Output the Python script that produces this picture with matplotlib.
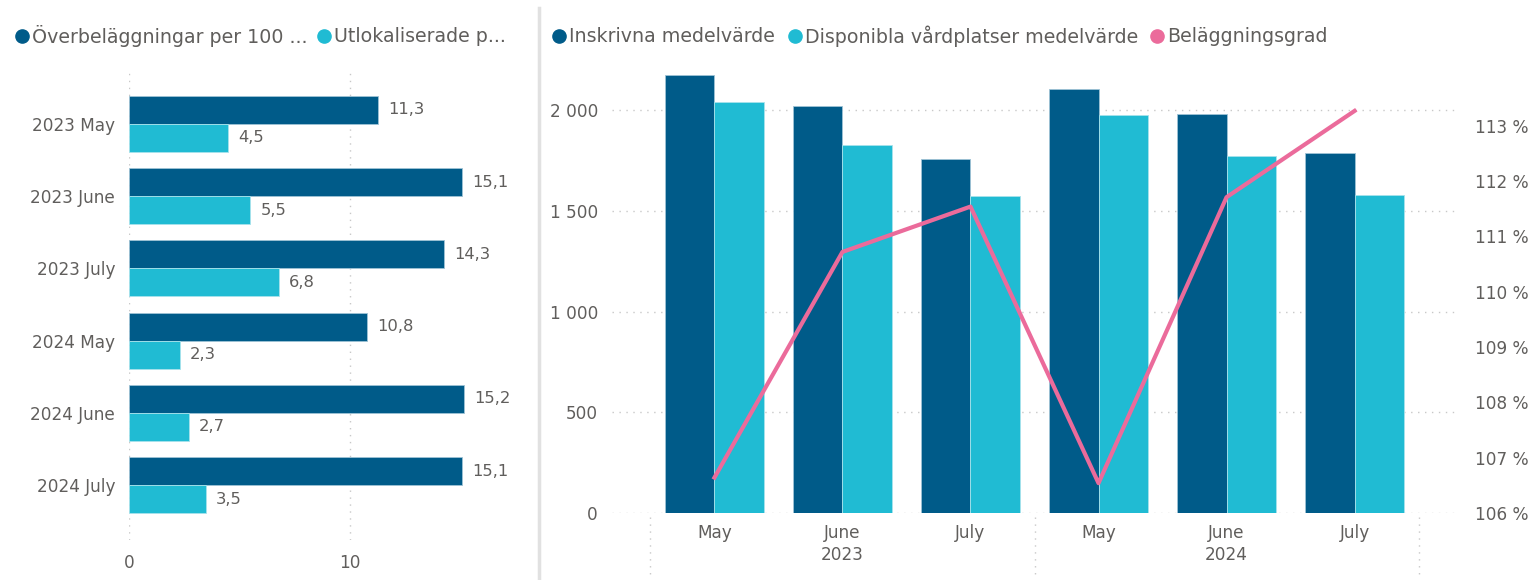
import matplotlib.pyplot as plt
from matplotlib.lines import Line2D
from matplotlib.ticker import FuncFormatter

# data
periods = ["2023 May", "2023 June", "2023 July", "2024 May", "2024 June", "2024 July"]
overbelaggningar = [11.3, 15.1, 14.3, 10.8, 15.2, 15.1]
utlokaliserade = [4.5, 5.5, 6.8, 2.3, 2.7, 3.5]

months = ["May", "June", "July", "May", "June", "July"]
years = ["2023", "2024"]
inskrivna = [2177, 2023, 1759, 2106, 1982, 1790]
disponibla = [2040, 1827, 1576, 1977, 1772, 1581]
belaggningsgrad = [106.64, 110.72, 111.54, 106.54, 111.71, 113.27]

DARK = "#005B89"
LIGHT = "#20BBD3"
PINK = "#EB6B9B"
TXT = "#605E5C"
GRID = "#C8C8C8"

plt.rcParams['font.family'] = ['DejaVu Sans']

W, H = 1534, 580
fig = plt.figure(figsize=(W / 100, H / 100), dpi=100)


def box(l, t, r, b):
    return [l / W, 1 - b / H, (r - l) / W, (b - t) / H]


def legend_item(x, y, color, label):
    fig.add_artist(Line2D([x / W], [1 - y / H], marker='o', markersize=9.5,
                          color=color, transform=fig.transFigure))
    fig.text((x + 10) / W, 1 - y / H, label, color=TXT, fontsize=13.7,
             va='center', ha='left')


# left chart: horizontal bars
ax1 = fig.add_axes(box(129, 69, 504, 540))
pos = list(range(len(periods)))
h = 0.387
ax1.barh([p - h / 2 for p in pos], overbelaggningar, height=h, color=DARK,
         edgecolor='#9FC3D6', linewidth=0.6)
ax1.barh([p + h / 2 for p in pos], utlokaliserade, height=h, color=LIGHT,
         edgecolor='#A8E3EC', linewidth=0.6)
for p, v in zip(pos, overbelaggningar):
    ax1.text(v + 0.45, p - h / 2, f"{v:.1f}".replace('.', ','), va='center',
             ha='left', color=TXT, fontsize=11.8)
for p, v in zip(pos, utlokaliserade):
    ax1.text(v + 0.45, p + h / 2, f"{v:.1f}".replace('.', ','), va='center',
             ha='left', color=TXT, fontsize=11.8)
ax1.set_xlim(0, 17)
ax1.set_ylim(5.76, -0.76)
ax1.set_yticks(pos)
ax1.set_yticklabels(periods)
ax1.set_xticks([0, 10])
ax1.tick_params(length=0, colors=TXT, labelsize=12.2)
ax1.tick_params(axis='y', pad=10)
ax1.tick_params(axis='x', pad=10)
ax1.grid(axis='x', color=GRID, linestyle=(0, (1, 4)), linewidth=1)
ax1.set_axisbelow(True)
for s in ax1.spines.values():
    s.set_visible(False)

legend_item(22, 36, DARK, "Överbeläggningar per 100 ...")
legend_item(324, 36, LIGHT, "Utlokaliserade p...")

# divider between the two visuals
fig.add_artist(Line2D([539 / W, 539 / W], [0, 1 - 8 / H], color='#E1E1E1',
                      linewidth=2.5, transform=fig.transFigure))

# right chart: columns + line
ax2 = fig.add_axes(box(612, 65, 1457, 513))
x = list(range(len(months)))
w = 0.388
ax2.bar([i - w / 2 for i in x], inskrivna, width=w, color=DARK,
        edgecolor='#9FC3D6', linewidth=0.6)
ax2.bar([i + w / 2 for i in x], disponibla, width=w, color=LIGHT,
        edgecolor='#A8E3EC', linewidth=0.6)
ax2.set_xlim(-0.8, 5.8)
ax2.set_ylim(0, 2225)
ax2.set_yticks([0, 500, 1000, 1500, 2000])
ax2.yaxis.set_major_formatter(FuncFormatter(lambda v, _: f"{int(v):,}".replace(',', ' ')))
ax2.set_xticks(x)
ax2.set_xticklabels(months)
ax2.tick_params(length=0, colors=TXT, labelsize=12.2)
ax2.tick_params(axis='y', pad=10)
ax2.tick_params(axis='x', pad=8)
ax2.grid(axis='y', color=GRID, linestyle=(0, (1, 4)), linewidth=1)
ax2.set_axisbelow(True)
for s in ax2.spines.values():
    s.set_visible(False)

ax3 = ax2.twinx()
ax3.plot(x, belaggningsgrad, color=PINK, linewidth=3)
ax3.set_ylim(106, 114.1)
ax3.set_yticks(range(106, 114))
ax3.yaxis.set_major_formatter(FuncFormatter(lambda v, _: f"{int(v)} %"))
ax3.tick_params(length=0, colors=TXT, labelsize=12.2, pad=13)
for s in ax3.spines.values():
    s.set_visible(False)

# year labels and hierarchy separators
for k, yr in enumerate(years):
    ax2.text(1 + 3 * k, -0.093, yr, transform=ax2.get_xaxis_transform(),
             ha='center', va='center', color=TXT, fontsize=12.2)
for xs in [-0.5, 2.5, 5.5]:
    ax2.add_artist(Line2D([xs, xs], [-0.01, -0.14], color=GRID,
                          linestyle=(0, (1, 4)), linewidth=1,
                          transform=ax2.get_xaxis_transform(), clip_on=False))

legend_item(559, 36, DARK, "Inskrivna medelvärde")
legend_item(795, 36, LIGHT, "Disponibla vårdplatser medelvärde")
legend_item(1157, 36, PINK, "Beläggningsgrad")

fig.savefig("out.png", dpi=100)
